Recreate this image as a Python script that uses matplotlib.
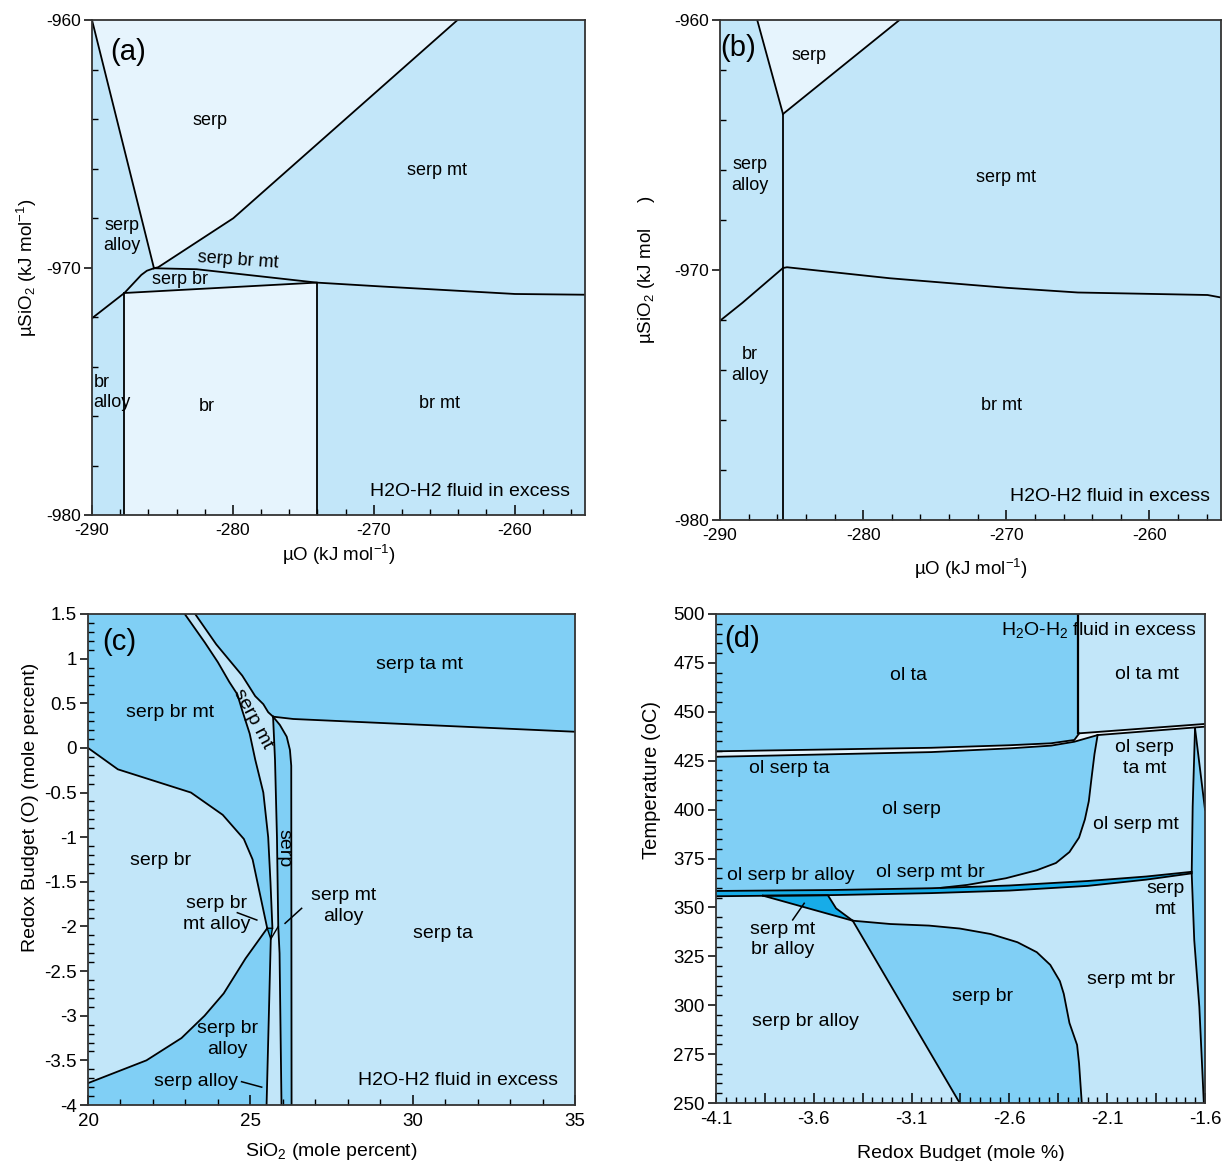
import numpy as np
import matplotlib
matplotlib.use("Agg")
import matplotlib.pyplot as plt
from matplotlib.ticker import MultipleLocator, FixedLocator, FixedFormatter

plt.rcParams['font.family'] = ['Liberation Sans', 'DejaVu Sans']
plt.rcParams['mathtext.fontset'] = 'custom'
plt.rcParams['mathtext.rm'] = 'Liberation Sans'
plt.rcParams['mathtext.it'] = 'Liberation Sans:italic'
plt.rcParams['axes.unicode_minus'] = False

LIGHT = '#e6f4fd'
MID = '#c2e6f9'
DARK = '#80cff5'
DEEP = '#17ace8'
W, H = 1225, 1161

# ---------------- panel (a) ----------------
a_left_x = [-290.0, -285.6]
a_left_y = [-960.0, -970.03]
a_serpmt_x = [-285.6, -285.3, -279.97, -264.05]
a_serpmt_y = [-970.03, -969.99, -968.01, -960.0]
a_sbm_x = [-285.6, -282.57, -274.05, -269.35, -259.97, -255.0]
a_sbm_y = [-970.03, -970.07, -970.61, -970.77, -971.07, -971.1]
a_alloy_x = [-285.6, -286.1, -286.5, -287.7, -290.0]
a_alloy_y = [-970.03, -970.13, -970.3, -971.03, -972.05]
a_sb_x = [-287.7, -274.05]
a_sb_y = [-971.03, -970.61]
a_labels = [("serp", -281.6, -964.05), ("serp mt", -265.5, -966.1),
            ("serp\nalloy", -287.9, -968.7), ("serp br", -283.75, -970.5),
            ("br", -281.85, -975.6), ("br mt", -265.3, -975.5)]

# ---------------- panel (b) ----------------
b_serpl_x = [-287.4, -285.6]
b_serpl_y = [-960.0, -963.76]
b_serpr_x = [-285.6, -277.46]
b_serpr_y = [-963.76, -960.0]
b_vert_x = -285.6
b_alloy_x = [-290.0, -288.43, -285.6]
b_alloy_y = [-972.03, -971.31, -969.92]
b_mt_x = [-285.6, -285.32, -278.14, -270.02, -265.0, -255.94, -255.0]
b_mt_y = [-969.92, -969.89, -970.33, -970.71, -970.9, -971.0, -971.1]
b_labels = [("serp", -283.8, -961.4), ("serp\nalloy", -287.9, -966.2),
            ("serp mt", -270.0, -966.3), ("br\nalloy", -287.9, -973.8),
            ("br mt", -270.3, -975.4)]

# ---------------- panel (c) ----------------
c_u_x = [20.0, 20.92, 23.17, 24.15, 24.8, 25.07, 25.52]
c_u_y = [0.0, -0.24, -0.5, -0.75, -1.02, -1.25, -2.02]
c_l_x = [20.0, 21.8, 22.88, 23.59, 24.18, 24.85, 25.52]
c_l_y = [-3.755, -3.5, -3.25, -3.0, -2.75, -2.36, -2.02]
c_a_x = [22.98, 23.6, 24.0, 24.35, 24.6, 24.75, 24.98, 25.15, 25.4, 25.55, 25.62, 25.68]
c_a_y = [1.5, 1.18, 0.96, 0.74, 0.6, 0.42, 0.16, -0.13, -0.5, -1.0, -1.5, -2.02]
c_b_x = [23.3, 23.95, 24.75, 25.15, 25.4, 25.55, 25.7]
c_b_y = [1.5, 1.16, 0.81, 0.58, 0.49, 0.4, 0.35]
c_v_x = [25.7, 25.76, 25.82, 25.86, 25.9, 25.96]
c_v_y = [0.35, -0.135, -1.0, -2.0, -2.3, -4.0]
c_w_x = [25.7, 25.91, 26.12, 26.22, 26.26, 26.27]
c_w_y = [0.35, 0.257, 0.126, -0.023, -0.2, -4.0]
c_tr_x = [25.7, 26.32, 35.0]
c_tr_y = [0.35, 0.324, 0.181]
c_tri_x = [25.52, 25.68, 25.63]
c_tri_y = [-2.02, -2.02, -2.14]
c_s_x = [25.63, 25.5]
c_s_y = [-2.14, -4.0]
c_labels = [("serp br mt", 22.52, 0.4), ("serp ta mt", 30.22, 0.93),
            ("serp br", 22.22, -1.256), ("serp br\nmt alloy", 23.95, -1.86),
            ("serp mt\nalloy", 27.87, -1.77), ("serp ta", 30.94, -2.08),
            ("serp br\nalloy", 24.3, -3.26), ("serp alloy", 23.32, -3.74)]
c_leaders = [([24.6, 25.2], [-1.846, -1.928]), ([26.07, 26.58], [-1.965, -1.797]),
             ([24.73, 25.35], [-3.739, -3.80])]

# ---------------- panel (d) ----------------
d_b1u_x = [-4.1, -3.0, -2.6, -2.387, -2.268, -2.243]
d_b1u_y = [429.8, 431.6, 432.9, 433.9, 435.6, 439.0]
d_b1l_x = [-4.1, -3.0, -2.6, -2.387, -2.268, -2.149]
d_b1l_y = [427.0, 429.4, 431.3, 432.7, 434.7, 438.1]
d_b2u_x = [-2.243, -1.6]
d_b2u_y = [439.0, 443.8]
d_b2l_x = [-2.149, -1.6]
d_b2l_y = [438.1, 442.4]
d_vert_x = -2.248
d_c1_x = [-2.149, -2.165, -2.181, -2.194, -2.214, -2.244, -2.293, -2.362, -2.46,
          -2.618, -2.815, -2.95]
d_c1_y = [438.1, 428.4, 415.4, 404.3, 395.0, 385.7, 378.3, 372.7, 369.0,
          364.9, 361.5, 360.0]
d_b3u_x = [-4.1, -3.5, -3.0, -2.6, -2.2, -1.9, -1.668]
d_b3u_y = [358.4, 358.9, 359.8, 361.2, 363.5, 365.8, 368.2]
d_b3l_x = [-4.1, -3.5, -3.0, -2.6, -2.2, -1.9, -1.668]
d_b3l_y = [355.7, 356.3, 357.3, 358.6, 361.0, 364.2, 367.4]
d_tri_x = [-3.86, -3.528, -3.486, -3.401]
d_tri_y = [356.0, 356.2, 349.5, 343.2]
d_sbc_x = [-3.401, -3.208, -3.011, -2.854, -2.696, -2.559, -2.46, -2.391, -2.342,
           -2.322, -2.293, -2.254, -2.244, -2.23]
d_sbc_y = [343.2, 341.5, 340.7, 339.2, 336.4, 332.2, 327.1, 320.6, 312.3,
           305.8, 290.9, 279.7, 270.4, 250.0]
d_sbd_x = [-3.401, -2.854]
d_sbd_y = [343.2, 250.0]
d_lens_x = [-1.651, -1.663, -1.668, -1.655, -1.629, -1.606]
d_lens_y = [441.6, 401.5, 367.4, 333.3, 299.2, 250.0]
d_lensr_x = [-1.651, -1.6]
d_lensr_y = [441.6, 400.0]
d_labels = [("ol ta", -3.114, 468.4), ("ol ta mt", -1.899, 469.3),
            ("ol serp\nta mt", -1.91, 426.3), ("ol serp ta", -3.726, 421.0),
            ("ol serp", -3.1, 400.0), ("ol serp mt", -1.954, 392.2),
            ("ol serp br alloy", -3.72, 366.2), ("ol serp mt br", -3.005, 368.0),
            ("serp\nmt", -1.8, 354.1), ("serp mt\nbr alloy", -3.76, 333.6),
            ("serp br", -2.736, 304.3), ("serp mt br", -1.978, 313.2),
            ("serp br alloy", -3.641, 291.8)]
d_xticks = [-4.1, -3.85, -3.6, -3.35, -3.1, -2.85, -2.6, -2.35, -2.1, -1.85, -1.6]
d_xlabels = ['-4.1', '', '-3.6', '', '-3.1', '', '-2.6', '', '-2.1', '', '-1.6']


def box(fig, l, t, r, b):
    return fig.add_axes([l / W, 1 - b / H, (r - l) / W, (b - t) / H])


def curve(ax, xs, ys, lw=1.3):
    ax.plot(xs, ys, color='k', lw=lw, zorder=3, solid_joinstyle='round')


def patch(ax, xs, ys, color):
    ax.fill(xs, ys, color=color, lw=0, zorder=1)


def style(ax, xmaj, xmin, ymaj, ymin, fs):
    ax.xaxis.set_major_locator(MultipleLocator(xmaj))
    ax.xaxis.set_minor_locator(MultipleLocator(xmin))
    ax.yaxis.set_major_locator(MultipleLocator(ymaj))
    ax.yaxis.set_minor_locator(MultipleLocator(ymin))
    ax.tick_params(axis='x', which='major', direction='in', length=7, width=1.1, labelsize=fs, pad=6)
    ax.tick_params(axis='x', which='minor', direction='in', length=4, width=1.0)
    ax.tick_params(axis='y', which='major', direction='out', length=6, width=1.1, labelsize=fs, pad=2)
    ax.tick_params(axis='y', which='minor', direction='in', length=4, width=1.0)
    for s in ax.spines.values():
        s.set_linewidth(1.3)
        s.set_color('#333333')
        s.set_zorder(5)


fig = plt.figure(figsize=(W / 100, H / 100), dpi=100)

# ---- (a)
ax = box(fig, 92, 20, 585, 515)
ax.set_facecolor(MID)
patch(ax, [-290] + a_serpmt_x[::-1], [-960] + a_serpmt_y[::-1], LIGHT)
patch(ax, [a_sb_x[0]] + a_sb_x + [a_sb_x[-1]], [-980] + a_sb_y + [-980], LIGHT)
curve(ax, a_left_x, a_left_y)
curve(ax, a_serpmt_x, a_serpmt_y)
curve(ax, a_sbm_x, a_sbm_y)
curve(ax, a_alloy_x, a_alloy_y)
curve(ax, a_sb_x, a_sb_y)
curve(ax, [a_sb_x[0]] * 2, [a_sb_y[0], -980])
curve(ax, [a_sb_x[1]] * 2, [a_sb_y[1], -980])
ax.set_xlim(-290, -255)
ax.set_ylim(-980, -960)
style(ax, 10, 2, 10, 2, 12.5)
for s, x, y in a_labels:
    ax.text(x, y, s, ha='center', va='center', fontsize=13, zorder=4, linespacing=1.25)
ax.text(-279.6, -969.72, "serp br mt", ha='center', va='center', fontsize=13, rotation=-4, zorder=4)
ax.text(-289.9, -975.05, "br\nalloy", ha='left', va='center', fontsize=13, zorder=4, linespacing=1.25)
ax.text(-256.1, -979.05, "H2O-H2 fluid in excess", ha='right', va='center', fontsize=14, zorder=4)
ax.text(-287.4, -961.3, "(a)", ha='center', va='center', fontsize=21, zorder=4)
ax.set_xlabel(r'µO (kJ mol$^{-1}$)', fontsize=13.5, labelpad=3)
ax.set_ylabel(r'µSiO$_2$ (kJ mol$^{-1}$)', fontsize=13.5, labelpad=5)

# ---- (b)
ax = box(fig, 720, 20, 1221, 520)
ax.set_facecolor(MID)
patch(ax, b_serpl_x + b_serpr_x[1:], b_serpl_y + b_serpr_y[1:], LIGHT)
curve(ax, b_serpl_x, b_serpl_y)
curve(ax, b_serpr_x, b_serpr_y)
curve(ax, [b_vert_x, b_vert_x], [b_serpl_y[-1], -980])
curve(ax, b_alloy_x, b_alloy_y)
curve(ax, b_mt_x, b_mt_y)
ax.set_xlim(-290, -255)
ax.set_ylim(-980, -960)
style(ax, 10, 2, 10, 2, 12.5)
for s, x, y in b_labels:
    ax.text(x, y, s, ha='center', va='center', fontsize=13, zorder=4, linespacing=1.25)
ax.text(-255.8, -979.05, "H2O-H2 fluid in excess", ha='right', va='center', fontsize=14, zorder=4)
ax.text(-288.7, -961.1, "(b)", ha='center', va='center', fontsize=21, zorder=4)
ax.set_xlabel(r'µO (kJ mol$^{-1}$)', fontsize=13.5, labelpad=10)
ax.set_ylabel(r'µSiO$_2$ (kJ mol     )', fontsize=13.5, labelpad=12)

# ---- (c)
ax = box(fig, 88, 614, 575, 1105)
ax.set_facecolor(DARK)
patch(ax, c_u_x + c_l_x[::-1], c_u_y + c_l_y[::-1], MID)
patch(ax, c_a_x + [c_s_x[0], c_v_x[3]] + c_v_x[2::-1] + c_b_x[::-1],
      c_a_y + [c_s_y[0], c_v_y[3]] + c_v_y[2::-1] + c_b_y[::-1], MID)
patch(ax, c_s_x + c_v_x[:2:-1][::-1][::-1], c_s_y + c_v_y[:2:-1][::-1][::-1], MID)
patch(ax, c_w_x + [35, 35] + c_tr_x[::-1], c_w_y + [-4, c_tr_y[-1]] + c_tr_y[::-1], MID)
patch(ax, c_tri_x, c_tri_y, DEEP)
for xs, ys in [(c_u_x, c_u_y), (c_l_x, c_l_y), (c_a_x, c_a_y), (c_b_x, c_b_y),
               (c_v_x, c_v_y), (c_w_x, c_w_y), (c_tr_x, c_tr_y), (c_s_x, c_s_y)]:
    curve(ax, xs, ys)
curve(ax, c_tri_x + [c_tri_x[0]], c_tri_y + [c_tri_y[0]], lw=1.0)
curve(ax, [c_s_x[0], c_v_x[3]], [c_s_y[0], c_v_y[3]], lw=1.0)
for xs, ys in c_leaders:
    curve(ax, xs, ys, lw=1.1)
ax.set_xlim(20, 35)
ax.set_ylim(-4, 1.5)
style(ax, 5, 1, 0.5, 0.1, 13.5)
ax.yaxis.set_major_formatter(matplotlib.ticker.FormatStrFormatter('%g'))
for s, x, y in c_labels:
    ax.text(x, y, s, ha='center', va='center', fontsize=14, zorder=4, linespacing=1.3)
ax.text(25.09, 0.33, "serp mt", ha='center', va='center', fontsize=14, rotation=-62, zorder=4)
ax.text(26.03, -1.12, "serp", ha='center', va='center', fontsize=14, rotation=-90, zorder=4)
ax.text(34.47, -3.73, "H2O-H2 fluid in excess", ha='right', va='center', fontsize=14, zorder=4)
ax.text(20.97, 1.19, "(c)", ha='center', va='center', fontsize=21, zorder=4)
ax.set_xlabel(r'SiO$_2$ (mole percent)', fontsize=14, labelpad=8)
ax.set_ylabel('Redox Budget (O) (mole percent)', fontsize=14)
ax.yaxis.set_label_coords(-0.10, 0.607)

# ---- (d)
ax = box(fig, 716, 614, 1205, 1103)
ax.set_facecolor(MID)
patch(ax, [-4.1, d_vert_x] + d_b1u_x[::-1], [500, 500] + d_b1u_y[::-1], DARK)
patch(ax, d_b1u_x + d_b2u_x[1:] + d_b2l_x[::-1] + d_b1l_x[-2::-1],
      d_b1u_y + d_b2u_y[1:] + d_b2l_y[::-1] + d_b1l_y[-2::-1], LIGHT)
patch(ax, d_b1l_x + d_c1_x[1:] + [-3.0, -3.5, -4.1],
      d_b1l_y + d_c1_y[1:] + [359.8, 358.9, 358.4], DARK)
patch(ax, d_b3u_x + d_b3l_x[::-1], d_b3u_y + d_b3l_y[::-1], DEEP)
patch(ax, d_tri_x + [d_tri_x[0]], d_tri_y + [d_tri_y[0]], DEEP)
patch(ax, d_sbc_x + d_sbd_x[::-1], d_sbc_y + d_sbd_y[::-1], DARK)
patch(ax, d_lens_x + [-1.6, -1.6], d_lens_y + [250, 400], DARK)
for xs, ys in [(d_b1u_x, d_b1u_y), (d_b1l_x, d_b1l_y), (d_b2u_x, d_b2u_y),
               (d_b2l_x, d_b2l_y), (d_c1_x, d_c1_y), (d_b3u_x, d_b3u_y),
               (d_b3l_x, d_b3l_y), (d_tri_x, d_tri_y), (d_sbc_x, d_sbc_y),
               (d_sbd_x, d_sbd_y), (d_lens_x, d_lens_y), (d_lensr_x, d_lensr_y)]:
    curve(ax, xs, ys)
curve(ax, [d_tri_x[0], d_tri_x[-1]], [d_tri_y[0], d_tri_y[-1]])
curve(ax, [d_vert_x, d_vert_x], [500, d_b1u_y[-1]], lw=1.6)
curve(ax, [-3.708, -3.649], [343.6, 352.1], lw=1.1)
ax.set_xlim(-4.1, -1.6)
ax.set_ylim(250, 500)
style(ax, 0.25, 0.05, 25, 5, 13.5)
ax.xaxis.set_major_locator(FixedLocator(d_xticks))
ax.xaxis.set_major_formatter(FixedFormatter(d_xlabels))
for s, x, y in d_labels:
    ax.text(x, y, s, ha='center', va='center', fontsize=14, zorder=4, linespacing=1.3)
ax.text(-1.643, 491.6, r'H$_2$O-H$_2$ fluid in excess', ha='right', va='center', fontsize=14, zorder=4)
ax.text(-3.966, 487.0, "(d)", ha='center', va='center', fontsize=21, zorder=4)
ax.set_xlabel('Redox Budget (mole %)', fontsize=14, labelpad=12)
ax.set_ylabel('Temperature (oC)', fontsize=14.5)
ax.yaxis.set_label_coords(-0.112, 0.66)

fig.savefig('out.png', dpi=100)
